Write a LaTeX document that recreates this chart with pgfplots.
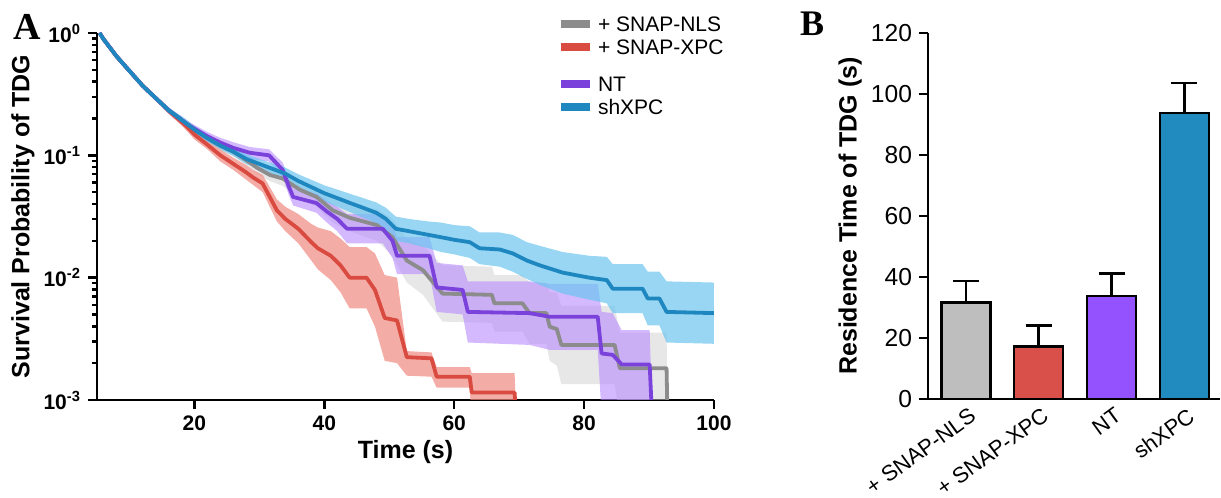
\documentclass[border=0pt]{standalone}
\usepackage{fontspec}
\setmainfont{Liberation Sans}
\newfontfamily\panelfont{Liberation Serif}
\usepackage{pgfplots}
\pgfplotsset{compat=1.18}
\usepackage{pgfplotstable}
\usepgfplotslibrary{fillbetween}

\definecolor{lgray}{HTML}{8C8C8C}
\definecolor{lred}{HTML}{D94A40}
\definecolor{lpurple}{HTML}{7B42DB}
\definecolor{lblue}{HTML}{1F87BF}
\definecolor{fgray}{HTML}{CFCFCF}
\definecolor{fred}{HTML}{F08A80}
\definecolor{fpurple}{HTML}{B78AFF}
\definecolor{fblue}{HTML}{6CC5F0}
\definecolor{bgray}{HTML}{BEBEBE}
\definecolor{bred}{HTML}{D9504A}
\definecolor{bpurple}{HTML}{9452FF}
\definecolor{bblue}{HTML}{218ABF}

\pgfplotstableread{
x y lo hi
5.4 1.0 0.977 1.023
6 0.891 0.871 0.912
7 0.759 0.741 0.776
8 0.646 0.631 0.661
9 0.562 0.550 0.575
10 0.490 0.479 0.501
11 0.427 0.417 0.437
12 0.372 0.363 0.380
13 0.331 0.320 0.343
14 0.295 0.282 0.309
15 0.263 0.251 0.275
16 0.232 0.219 0.246
17 0.209 0.196 0.223
18 0.188 0.176 0.201
19 0.168 0.155 0.182
20 0.148 0.135 0.162
22 0.122 0.112 0.134
24 0.100 0.0891 0.112
26 0.0851 0.0759 0.0955
28 0.0724 0.0631 0.0832
29 0.0661 0.0575 0.0759
30.5 0.0589 0.0501 0.0692
31.5 0.0468 0.0389 0.0562
32.7 0.0355 0.0288 0.0437
34 0.0302 0.0240 0.0380
36 0.0251 0.0191 0.0331
38 0.0195 0.0138 0.0275
39 0.0174 0.0117 0.0257
41 0.0151 0.00955 0.0240
42.5 0.0126 0.00759 0.0209
43.9 0.0100 0.00562 0.0178
46.5 0.0100 0.00562 0.0178
47.8 0.00794 0.00398 0.0158
49.3 0.00468 0.00209 0.0105
51.2 0.00447 0.00200 0.0100
52.7 0.00224 0.00158 0.00251
56.5 0.00219 0.00155 0.00245
57.3 0.00155 0.00126 0.00186
62.4 0.00155 0.00126 0.00186
62.7 0.00115 0.000575 0.00166
69.3 0.00115 0.000575 0.00166
69.6 0.00063 0.0003 0.00063
}\tabred

\pgfplotstableread{
x y lo hi
5.4 1.0 0.977 1.023
6 0.891 0.871 0.912
7 0.759 0.741 0.776
8 0.646 0.631 0.661
9 0.562 0.550 0.575
10 0.490 0.479 0.501
11 0.427 0.417 0.437
12 0.372 0.363 0.380
13 0.331 0.320 0.343
14 0.295 0.282 0.309
15 0.263 0.251 0.275
16 0.234 0.221 0.248
17 0.214 0.202 0.226
18 0.195 0.182 0.209
19 0.178 0.166 0.191
20 0.162 0.151 0.174
22 0.138 0.129 0.148
24 0.120 0.111 0.130
26 0.107 0.0977 0.117
28 0.0912 0.0832 0.100
29.6 0.0794 0.0708 0.0891
31.6 0.0692 0.0617 0.0776
33.6 0.0646 0.0562 0.0741
36.2 0.0525 0.0447 0.0617
38.8 0.0457 0.0380 0.0550
41.3 0.0355 0.0282 0.0447
43.9 0.0309 0.0240 0.0398
48.1 0.0269 0.0200 0.0363
50.5 0.0214 0.0151 0.0302
52.7 0.0138 0.00912 0.0209
55.2 0.0115 0.00724 0.0182
58.2 0.00741 0.00437 0.0126
65.8 0.00724 0.00427 0.0123
66.2 0.00617 0.00363 0.0105
70.5 0.00617 0.00363 0.0105
71.6 0.00513 0.00288 0.00912
74.2 0.00513 0.00288 0.00912
74.7 0.00398 0.00209 0.00759
75.8 0.00380 0.00191 0.00759
76.5 0.00282 0.00135 0.00589
84.7 0.00282 0.00135 0.00589
85.5 0.00182 0.000724 0.00355
92.7 0.00182 0.000724 0.00355
92.9 0.0005 0.0003 0.0005
}\tabgray

\pgfplotstableread{
x y lo hi
5.4 1.0 0.977 1.023
6 0.891 0.871 0.912
7 0.759 0.741 0.776
8 0.646 0.631 0.661
9 0.562 0.550 0.575
10 0.490 0.479 0.501
11 0.427 0.417 0.437
12 0.372 0.363 0.380
13 0.331 0.320 0.343
14 0.295 0.282 0.309
15 0.263 0.251 0.275
16 0.234 0.221 0.248
17 0.214 0.202 0.226
18 0.195 0.182 0.209
19 0.178 0.166 0.191
20 0.165 0.154 0.177
22 0.143 0.131 0.155
24 0.127 0.115 0.139
26 0.115 0.104 0.128
28.5 0.105 0.0933 0.117
31.5 0.100 0.0891 0.112
33.6 0.0759 0.0661 0.0871
34.5 0.0562 0.0479 0.0661
35.2 0.0457 0.0389 0.0537
38.8 0.0407 0.0339 0.0490
40.4 0.0347 0.0282 0.0427
42 0.0302 0.0240 0.0380
43.5 0.0251 0.0191 0.0331
49 0.0251 0.0191 0.0331
50.5 0.0200 0.0145 0.0275
51.2 0.0151 0.0107 0.0214
56.2 0.0151 0.0107 0.0214
57.3 0.00832 0.00525 0.0132
61.3 0.00794 0.00501 0.0126
62.1 0.00525 0.00295 0.00933
71.6 0.00513 0.00282 0.00933
74.7 0.00479 0.00257 0.00891
82.1 0.00479 0.00257 0.00891
82.7 0.00240 0.000759 0.00525
84.4 0.00234 0.000741 0.00513
85.8 0.00195 0.000617 0.00372
90.1 0.00195 0.000617 0.00372
90.6 0.0005 0.0003 0.0005
}\tabpurple

\pgfplotstableread{
x y lo hi
5.4 1.0 0.977 1.023
6 0.891 0.871 0.912
7 0.759 0.741 0.776
8 0.646 0.631 0.661
9 0.562 0.550 0.575
10 0.490 0.479 0.501
11 0.427 0.417 0.437
12 0.372 0.363 0.380
13 0.331 0.320 0.343
14 0.295 0.282 0.309
15 0.263 0.251 0.275
16 0.234 0.221 0.248
17 0.214 0.202 0.226
18 0.195 0.182 0.209
19 0.178 0.166 0.191
20 0.162 0.151 0.174
22 0.138 0.129 0.148
24 0.120 0.112 0.129
26 0.107 0.0989 0.116
28 0.0933 0.0851 0.102
30 0.0851 0.0776 0.0933
32 0.0776 0.0700 0.0861
34 0.0708 0.0631 0.0794
36 0.0617 0.0543 0.0700
38 0.0550 0.0479 0.0631
40 0.0490 0.0422 0.0569
42 0.0447 0.0380 0.0525
44 0.0407 0.0343 0.0484
46 0.0372 0.0309 0.0447
48 0.0339 0.0279 0.0412
49.5 0.0302 0.0245 0.0372
51 0.0251 0.0200 0.0316
53 0.0240 0.0191 0.0302
56 0.0224 0.0174 0.0288
58 0.0214 0.0162 0.0282
60 0.0204 0.0155 0.0269
62.4 0.0195 0.0145 0.0263
63.9 0.0174 0.0129 0.0234
67 0.0170 0.0123 0.0234
69 0.0158 0.0112 0.0224
71.2 0.0138 0.00977 0.0195
73.2 0.0126 0.00871 0.0182
76.7 0.0110 0.00741 0.0162
80.8 0.0100 0.00661 0.0151
83.5 0.00955 0.00617 0.0148
84.4 0.00813 0.00513 0.0129
89 0.00813 0.00513 0.0129
89.8 0.00676 0.00407 0.0112
91.6 0.00676 0.00407 0.0112
92.7 0.00525 0.00295 0.00933
100 0.00513 0.00288 0.00912
}\tabblue

\begin{document}
\begin{tikzpicture}

\node[font=\panelfont\bfseries\fontsize{19}{21}\selectfont] at (13.5pt,235.5pt) {A};
\node[font=\panelfont\bfseries\fontsize{18}{20}\selectfont] at (406pt,237pt) {B};

\begin{axis}[
  at={(48.5pt,49pt)}, anchor=south west,
  scale only axis, width=308.5pt, height=183.5pt,
  ymode=log, xmin=5, xmax=100, ymin=0.001, ymax=1,
  axis x line*=bottom, axis y line*=left,
  axis line style={line width=1.3pt},
  tick align=outside, major tick length=4.5pt, minor tick length=2.5pt,
  every tick/.style={black, line width=1.2pt},
  xtick={20,40,60,80,100}, xticklabels={20,40,60,80,100},
  ytick={1,0.1,0.01,0.001},
  yticklabels={10\textsuperscript{0},10\textsuperscript{-1},10\textsuperscript{-2},10\textsuperscript{-3}},
  minor ytick={0.002,0.003,0.004,0.005,0.006,0.007,0.008,0.009,0.02,0.03,0.04,0.05,0.06,0.07,0.08,0.09,0.2,0.3,0.4,0.5,0.6,0.7,0.8,0.9},
  ticklabel style={font=\bfseries\fontsize{10.5}{12}\selectfont},
  xlabel={Time (s)}, ylabel={Survival Probability of TDG},
  label style={font=\bfseries\fontsize{12.5}{15}\selectfont},
  xlabel style={at={(axis description cs:0.5,-0.142)}, anchor=center},
  ylabel style={at={(axis description cs:-0.12,0.5)}, anchor=center},
  legend image code/.code={\draw[#1, line width=4pt] (0pt,3.7pt) -- (14.5pt,3.7pt);},
  legend style={at={(axis description cs:0.745,1.055)}, anchor=north west,
    draw=none, fill=none, inner sep=0pt, row sep=-1.5pt,
    font=\fontsize{10.5}{12}\selectfont, cells={anchor=base west}},
]
% bands
\addplot[name path=gH, draw=none, forget plot] table[x=x,y=hi]{\tabgray};
\addplot[name path=gL, draw=none, forget plot] table[x=x,y=lo]{\tabgray};
\addplot[fgray, fill opacity=0.5, draw=none, forget plot] fill between[of=gH and gL];
\addplot[name path=rH, draw=none, forget plot] table[x=x,y=hi]{\tabred};
\addplot[name path=rL, draw=none, forget plot] table[x=x,y=lo]{\tabred};
\addplot[fred, fill opacity=0.7, draw=none, forget plot] fill between[of=rH and rL];
\addplot[name path=pH, draw=none, forget plot] table[x=x,y=hi]{\tabpurple};
\addplot[name path=pL, draw=none, forget plot] table[x=x,y=lo]{\tabpurple};
\addplot[fpurple, fill opacity=0.6, draw=none, forget plot] fill between[of=pH and pL];
\addplot[name path=bH, draw=none, forget plot] table[x=x,y=hi]{\tabblue};
\addplot[name path=bL, draw=none, forget plot] table[x=x,y=lo]{\tabblue};
\addplot[fblue, fill opacity=0.7, draw=none, forget plot] fill between[of=bH and bL];
% lines
\addplot[lgray, line width=1.9pt, line join=round] table[x=x,y=y]{\tabgray};
\addlegendentry{+ SNAP-NLS}
\addplot[lred, line width=1.9pt, line join=round] table[x=x,y=y]{\tabred};
\addlegendentry{+ SNAP-XPC}
\addplot[lpurple, line width=1.9pt, line join=round] table[x=x,y=y]{\tabpurple};
\addlegendentry{\raisebox{0pt}[14.5pt][0pt]{NT}}
\addplot[lblue, line width=1.9pt, line join=round] table[x=x,y=y]{\tabblue};
\addlegendentry{shXPC}
\end{axis}

\begin{axis}[
  at={(464pt,49.5pt)}, anchor=south west,
  scale only axis, width=146pt, height=183pt,
  xmin=-0.52, xmax=3.49, ymin=0, ymax=120,
  axis x line*=bottom, axis y line*=left,
  axis line style={line width=1.4pt},
  tick align=outside, major tick length=4.5pt,
  ytick={0,20,40,60,80,100,120}, yticklabels={0,20,40,60,80,100,120},
  xtick={0,1,2,3}, xticklabels={+ SNAP-NLS,+ SNAP-XPC,NT,shXPC},
  x tick style={draw=none}, y tick style={line width=1.3pt, black},
  ticklabel style={font=\fontsize{12.3}{14}\selectfont},
  xticklabel style={rotate=36, anchor=north east, inner sep=1pt, xshift=2.5pt, yshift=1pt, font=\fontsize{11}{13}\selectfont},
  ylabel={Residence Time of TDG (s)},
  ylabel style={font=\bfseries\fontsize{12.5}{15}\selectfont, at={(axis description cs:-0.267,0.5)}, anchor=center},
  error bars/error bar style={line width=1.2pt, black},
  error bars/error mark options={rotate=90, mark size=6.5pt, line width=1.2pt, black},
]
\addplot[ybar, bar width=24.5pt, bar shift=0pt, fill=bgray, draw=black, line width=1.2pt,
  error bars/.cd, y dir=plus, y explicit] coordinates {(0,31.7) +- (0,7.0)};
\addplot[ybar, bar width=24.5pt, bar shift=0pt, fill=bred, draw=black, line width=1.2pt,
  error bars/.cd, y dir=plus, y explicit] coordinates {(1,17.2) +- (0,6.9)};
\addplot[ybar, bar width=24.5pt, bar shift=0pt, fill=bpurple, draw=black, line width=1.2pt,
  error bars/.cd, y dir=plus, y explicit] coordinates {(2,33.7) +- (0,7.5)};
\addplot[ybar, bar width=24.5pt, bar shift=0pt, fill=bblue, draw=black, line width=1.2pt,
  error bars/.cd, y dir=plus, y explicit] coordinates {(3,93.7) +- (0,9.9)};
\end{axis}

\pgfresetboundingbox
\path[use as bounding box] (0,0) rectangle (610.5pt,249pt);
\end{tikzpicture}
\end{document}
